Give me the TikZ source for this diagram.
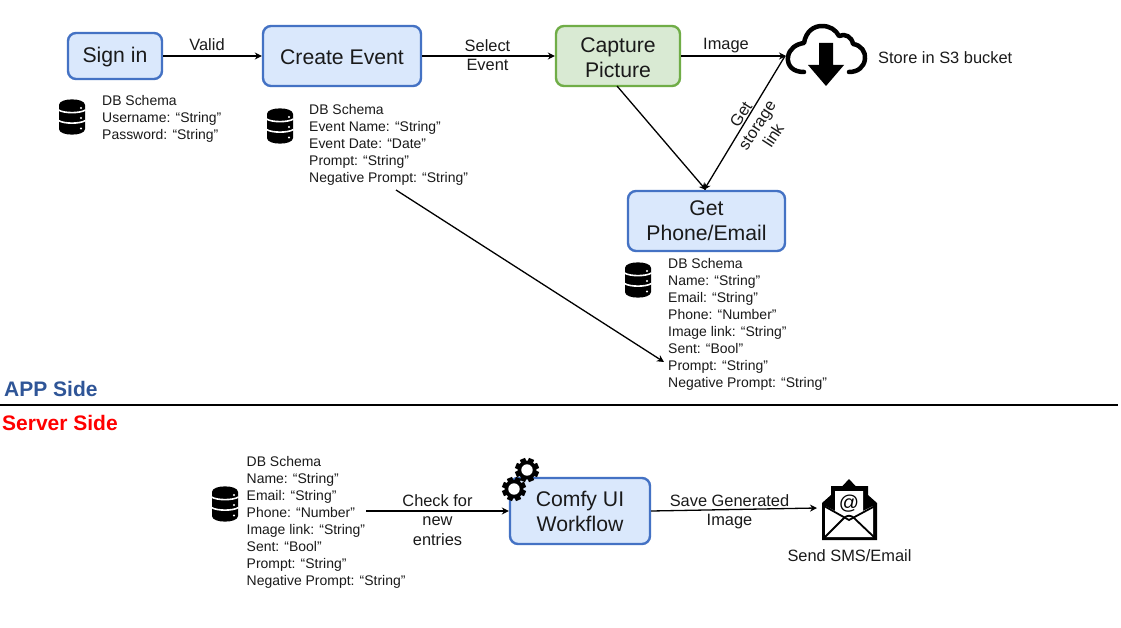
\documentclass[tikz,border=0pt]{standalone}
\usepackage{fontspec}
\setmainfont{Liberation Sans}
\usetikzlibrary{arrows.meta}
\tikzset{
  x=1pt,y=-1pt,
  flow/.style={draw=black,line width=1.3pt,-{Stealth[length=7pt,width=7pt]}},
  boxblue/.style={draw=boxb,fill=fillb,line width=2.4pt,rounded corners=8pt,align=center,font=\fontsize{21.2}{25}\selectfont,inner sep=0pt,text=inktext},
  boxgreen/.style={boxblue,draw=boxg,fill=fillg},
  schema/.style={anchor=north west,align=left,inner sep=0pt,text=inktext,font=\fontsize{13.96}{17}\selectfont},
  lab/.style={align=center,inner sep=0pt,text=inktext,font=\fontsize{16.4}{19.2}\selectfont},
  side/.style={anchor=west,inner sep=0pt,font=\fontsize{21}{24}\selectfont\bfseries},
}
\definecolor{inktext}{HTML}{1A1A1A}
\definecolor{boxb}{HTML}{4472C4}
\definecolor{fillb}{HTML}{DAE8FC}
\definecolor{boxg}{HTML}{70AD47}
\definecolor{fillg}{HTML}{D9EAD3}
\definecolor{appblue}{HTML}{2F5597}
\newcommand{\dn}[1]{\raisebox{-1.5pt}[\height][\depth]{#1}}
\newcommand{\dbicon}[2]{%
 \begin{scope}[shift={(#1,#2)}]
  \fill[black] (-13,-12) .. controls (-13,-19.5) and (13,-19.5) .. (13,-12) -- (13,12) .. controls (13,19.5) and (-13,19.5) .. (-13,12) -- cycle;
  \draw[white,line width=1.6pt] (-13.5,-7) .. controls (-8,-3.5) and (8,-3.5) .. (13.5,-7);
  \draw[white,line width=1.6pt] (-13.5,3.5) .. controls (-8,7) and (8,7) .. (13.5,3.5);
  \fill[white] (9,-9) circle (1.1) (9,1) circle (1.1) (9,11.5) circle (1.1);
 \end{scope}}
\newcommand{\gearicon}[3]{%
 \begin{scope}[shift={(#1,#2)}]
  \foreach \a in {0,45,...,315}{
   \fill[black,rotate=\a+22.5] (-2.8,-#3) rectangle (2.8,0);
  }
  \fill[black] (0,0) circle ({#3-2.5});
  \fill[white] (0,0) circle ({#3/2.1});
 \end{scope}}
\begin{document}
\begin{tikzpicture}
\useasboundingbox (0,0) rectangle (1121,628);
\fill[white] (0,0) rectangle (1121,628);
% boxes
\node[boxblue,minimum width=94pt,minimum height=46pt] (signin) at (115,56) {\dn{Sign in}};
\node[boxblue,minimum width=158pt,minimum height=60pt] (create) at (342,56) {\dn{Create Event}};
\node[boxgreen,minimum width=124pt,minimum height=60pt] (capture) at (618,56) {\dn{Capture}\\\dn{Picture}};
\node[boxblue,minimum width=157pt,minimum height=60pt] (phone) at (706.5,221) {Get\\Phone/Email};
\node[boxblue,minimum width=140pt,minimum height=66pt] (comfy) at (580,511) {Comfy UI\\Workflow};
% schemas
\dbicon{72}{117}
\node[schema] (s1) at (102,95) {DB Schema\\Username: “String”\\Password: “String”};
\dbicon{280}{126}
\node[schema] (s2) at (309,104) {DB Schema\\Event Name: “String”\\Event Date: “Date”\\Prompt: “String”\\Negative Prompt: “String”};
\dbicon{638}{280}
\node[schema] (s3) at (668,258) {DB Schema\\Name: “String”\\Email: “String”\\Phone: “Number”\\Image link: “String”\\Sent: “Bool”\\Prompt: “String”\\Negative Prompt: “String”};
\dbicon{225}{504}
\node[schema] (s4) at (246.5,456) {DB Schema\\Name: “String”\\Email: “String”\\Phone: “Number”\\Image link: “String”\\Sent: “Bool”\\Prompt: “String”\\Negative Prompt: “String”};
% cloud icon
\draw[black,line width=4.5pt,line cap=round,line join=round] (804,72) .. controls (793,72) and (787,66) .. (788,57) .. controls (789,49) and (796,44) .. (804,43) .. controls (806,31) and (814,26) .. (822,26) .. controls (830,26) and (836,30) .. (839,36) .. controls (845,33) and (852,37) .. (853,44) .. controls (861,45) and (866,52) .. (865,59) .. controls (864,67) and (858,72) .. (849,72);
\fill[black] (819,43) -- (833,43) -- (833,65) -- (844,65) -- (826,86) -- (808,65) -- (819,65) -- cycle;
\coordinate (cloudin) at (786,56);
\coordinate (cloudout) at (785,56);
\node[lab,anchor=west] (s3lab) at (878,58) {Store in S3 bucket};
% gears
\gearicon{527}{470}{12}
\gearicon{514}{489}{12}
% envelope
\fill[black] (849,479) -- (842.5,486) -- (831,486) -- (831,495) -- (822,503) -- (822,540) -- (877,540) -- (877,503) -- (868,495) -- (868,486) -- (855.5,486) -- cycle;
\fill[white] (835,491) -- (863,491) -- (863,511) -- (873,506) -- (873,537) -- (825,537) -- (825,506) -- (835,511) -- cycle;
\draw[black,line width=1.8pt] (824,506) -- (849,520) -- (875,506);
\draw[black,line width=1.8pt] (824,538) -- (844,518) .. controls (847,515) and (851,515) .. (854,518) -- (875,538);
\node[inner sep=0pt,font=\fontsize{20}{20}\selectfont] (at) at (849,503.5) {@};
\coordinate (envin) at (817,508);
\node[lab] (sendlab) at (849.5,555.5) {Send SMS/Email};
% labels
\node[lab] (lvalid) at (207,45) {Valid};
\node[lab] (lselect) at (487.5,55) {Select\\Event};
\node[lab] (limage) at (726,46) {Image};
\node[lab,rotate=57,font=\fontsize{16.4}{19.3}\selectfont] (lstorage) at (757,125) {Get\\storage\\link};
\node[lab,font=\fontsize{16.4}{19.5}\selectfont] (lcheck) at (437.5,520) {Check for\\new\\entries};
\node[lab] (lsave) at (729.5,511.5) {Save Generated\\Image};
% connectors
\draw[flow] (signin.east) -- (create.west);
\draw[flow] (create.east) -- (capture.west);
\draw[flow] (capture.east) -- (cloudin);
\coordinate (capfoot) at (617,86);
\coordinate (phonetop) at (706,190);
\coordinate (phonetopb) at (704,190);
\draw[flow] (capfoot) -- (phonetop);
\draw[flow] (cloudout) -- (phonetopb);
\coordinate (schemafoot) at (396,190);
\coordinate (schemaend) at (664,362);
\draw[flow] (schemafoot) -- (schemaend);
\coordinate (chkstart) at (366,511);
\draw[flow] (chkstart) -- (comfy.west);
\draw[flow] (comfy.east) -- (envin);
% divider
\coordinate (divl) at (0,405);
\coordinate (divr) at (1118,405);
\draw[black,line width=2pt] (divl) -- (divr);
\node[side,text=appblue] (app) at (4,388.5) {APP Side};
\node[side,text=red] (server) at (2,422.5) {Server Side};
\end{tikzpicture}
\end{document}
